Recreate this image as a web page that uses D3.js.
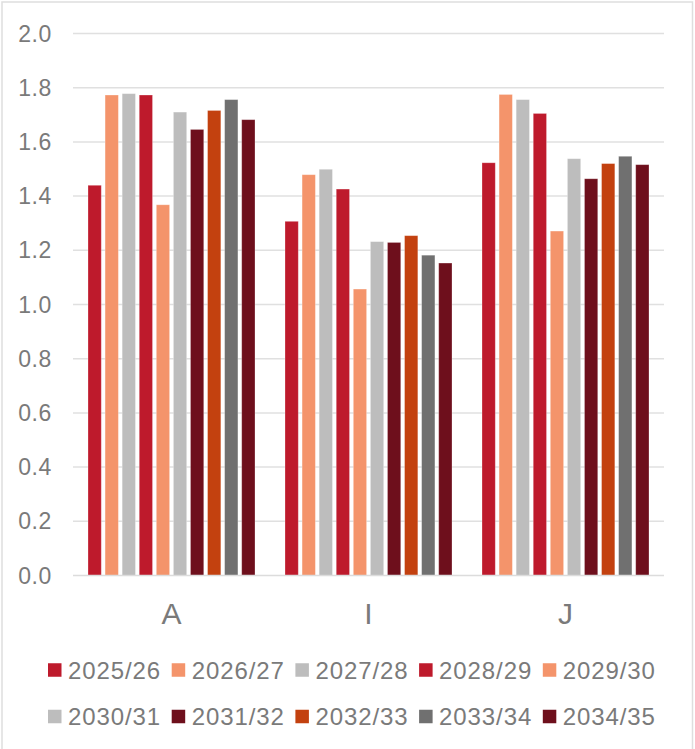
<!DOCTYPE html>
<html>
<head>
<meta charset="utf-8">
<script src="https://cdn.jsdelivr.net/npm/d3@7"></script>
<style>
  html, body { margin: 0; padding: 0; background: #fff; }
  svg { display: block; font-family: "Liberation Sans", Arial, sans-serif; }
</style>
</head>
<body>
<svg id="chart" width="695" height="749"></svg>
<script>
const categories = ["A", "I", "J"];
const seriesNames = ["2025/26", "2026/27", "2027/28", "2028/29", "2029/30",
                     "2030/31", "2031/32", "2032/33", "2033/34", "2034/35"];
const seriesColors = ["#BE1A2C", "#F4946B", "#BDBDBD", "#BE1A2C", "#F4946B",
                      "#BDBDBD", "#6E0F1C", "#C3410F", "#707070", "#6E0F1C"];
// values per category, one per series
const valuesA = [1.44, 1.773, 1.778, 1.773, 1.368, 1.71, 1.646, 1.716, 1.756, 1.682];
const valuesI = [1.307, 1.479, 1.499, 1.426, 1.057, 1.232, 1.229, 1.254, 1.182, 1.153];
const valuesJ = [1.523, 1.775, 1.756, 1.705, 1.271, 1.538, 1.464, 1.52, 1.547, 1.516];
const yTicks = [0, 0.2, 0.4, 0.6, 0.8, 1.0, 1.2, 1.4, 1.6, 1.8, 2.0];

const valuesByCat = { A: valuesA, I: valuesI, J: valuesJ };
const rows = [];
categories.forEach(c => seriesNames.forEach((s, i) => rows.push({ cat: c, series: s, idx: i, value: valuesByCat[c][i] })));

const svg = d3.select("#chart");
const textColor = "#7a7a7a";

// outer border
svg.append("rect").attr("x", 2).attr("y", 2).attr("width", 690.5).attr("height", 760)
  .attr("fill", "none").attr("stroke", "#dedede").attr("stroke-width", 1.5);

const plotLeft = 73, plotRight = 664, plotTop = 33.5, plotBottom = 575.5;

const x0 = d3.scaleBand().domain(categories).range([plotLeft, plotRight]).paddingInner(0).paddingOuter(0);
const x1 = d3.scaleBand().domain(seriesNames).range([15, 182]).paddingInner(0.222).paddingOuter(0);
const y = d3.scaleLinear().domain([0, 2.0]).range([plotBottom, plotTop]);

// gridlines
svg.append("g").selectAll("line").data(yTicks.filter(t => t > 0)).join("line")
  .attr("x1", plotLeft).attr("x2", plotRight)
  .attr("y1", d => y(d)).attr("y2", d => y(d))
  .attr("stroke", "#e0e0e0").attr("stroke-width", 1.5);

// y tick labels
svg.append("g").selectAll("text").data(yTicks).join("text")
  .attr("x", 52).attr("y", d => y(d))
  .attr("dy", "0.35em")
  .attr("text-anchor", "end")
  .attr("fill", textColor)
  .style("font-size", "23px")
  .style("letter-spacing", "0.6px")
  .text(d => d3.format(".1f")(d));

// bars
svg.append("g").selectAll("rect").data(rows).join("rect")
  .attr("x", d => x0(d.cat) + x1(d.series))
  .attr("y", d => y(d.value))
  .attr("width", x1.bandwidth())
  .attr("height", d => y(0) - y(d.value))
  .attr("fill", d => seriesColors[d.idx])
  .attr("stroke", "#ffffff").attr("stroke-opacity", 0.35).attr("stroke-width", 0.8);

// x axis line
svg.append("line").attr("x1", plotLeft).attr("x2", plotRight)
  .attr("y1", y(0)).attr("y2", y(0))
  .attr("stroke", "#dcdcdc").attr("stroke-width", 1.5);

// category labels
svg.append("g").selectAll("text").data(categories).join("text")
  .attr("x", d => x0(d) + x0.bandwidth() / 2)
  .attr("y", 623.5)
  .attr("text-anchor", "middle")
  .attr("fill", textColor)
  .style("font-size", "30px")
  .text(d => d);

// legend
const lx = d3.scaleBand().domain(d3.range(5)).range([48, 48 + 5 * 123.7]).padding(0);
const ly = d3.scaleBand().domain([0, 1]).range([647, 740]).padding(0);
const leg = svg.append("g").selectAll("g").data(seriesNames).join("g")
  .attr("transform", (d, i) => `translate(${lx(i % 5)},${ly(Math.floor(i / 5)) + ly.bandwidth() / 2})`);
leg.append("rect").attr("x", 0).attr("y", -7).attr("width", 13.5).attr("height", 13.5)
  .attr("fill", (d, i) => seriesColors[i]);
leg.append("text").attr("x", 20).attr("y", 0).attr("dy", "0.36em")
  .attr("fill", textColor)
  .style("font-size", "24px")
  .style("letter-spacing", "0.9px")
  .text(d => d);
</script>
</body>
</html>
